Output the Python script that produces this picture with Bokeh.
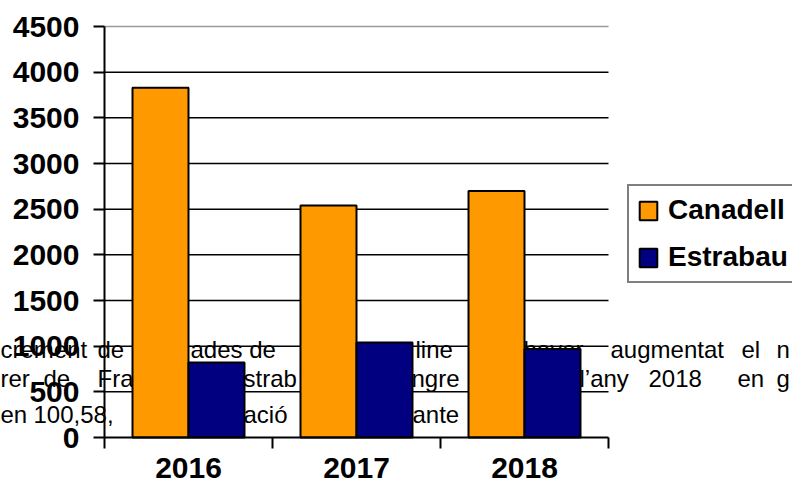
from bokeh.plotting import figure
from bokeh.models import FixedTicker, Label, Legend, LegendItem, Range1d
from bokeh.embed import file_html
from bokeh.resources import INLINE

# ---- data ----
years = ["2016", "2017", "2018"]
canadell = [3830, 2540, 2700]
estrabau = [820, 1040, 970]
series_names = ["Canadell", "Estrabau"]
y_ticks = [0, 500, 1000, 1500, 2000, 2500, 3000, 3500, 4000, 4500]

# background document text fragments (partly hidden behind the chart)
bg_line1 = ["crement", "de", "ades de", "etres line", "haver", "augmentat", "el", "n"]
bg_line2 = ["rer", "de", "Fra", "strab", "ngre", "l\u2019any", "2018", "en", "g"]
bg_line3 = ["en", "100,58,", "ació", "ante"]

# ---- layout (pixels of the picture) ----
W, H = 792, 483
PX_L, PX_R, PX_T, PX_B = 104, 608, 26, 437   # where x=0, x=3, y=4500, y=0 fall
ORANGE = "#FF9900"
NAVY = "#000080"

n = len(years)
ppu_x = (PX_R - PX_L) / n
ppu_y = (PX_B - PX_T) / y_ticks[-1]
x_range = Range1d(-PX_L / ppu_x, (W - PX_L) / ppu_x)
y_range = Range1d(-(H - PX_B) / ppu_y, y_ticks[-1] + PX_T / ppu_y)

p = figure(width=W, height=H, output_backend="svg", toolbar_location=None,
           x_range=x_range, y_range=y_range,
           min_border_left=0, min_border_right=0, min_border_top=0, min_border_bottom=0)
p.outline_line_color = None
p.background_fill_color = "white"
p.border_fill_color = "white"
p.xgrid.visible = False
p.ygrid.visible = False

def add_bg(words, xs, baseline):
    for w, x in zip(words, xs):
        p.add_layout(Label(x=x, y=H - baseline, x_units="screen", y_units="screen",
                           text=w, text_font="Liberation Sans", text_font_size="24px",
                           text_color="black", text_baseline="alphabetic",
                           level="underlay"))

add_bg(bg_line1, [0, 97, 190, 355, 523, 610, 741, 776], 349)
add_bg(bg_line2, [0, 43, 97, 243, 411, 579, 648, 737, 776], 378)
add_bg(bg_line3, [0, 33, 243, 412], 414)

# gridlines (only across the category area) and grey top border
grid_vals = y_ticks[1:-1]
p.segment(x0=[0] * len(grid_vals), x1=[n] * len(grid_vals), y0=grid_vals, y1=grid_vals,
          line_color="black", line_width=1.5)
p.segment(x0=[0], x1=[n], y0=[y_ticks[-1]], y1=[y_ticks[-1]],
          line_color="#9a9a9a", line_width=1.5)

# bars
idx = list(range(n))
bw = 1.0 / 3
x_c = [i + 0.5 - bw / 2 for i in idx]
x_e = [i + 0.5 + bw / 2 for i in idx]
r_c = p.vbar(x=x_c, top=canadell, bottom=0, width=bw, fill_color=ORANGE,
             line_color="black", line_width=2)
r_e = p.vbar(x=x_e, top=estrabau, bottom=0, width=bw, fill_color=NAVY,
             line_color="black", line_width=2)

# y axis
ya = p.yaxis[0]
ya.fixed_location = 0
ya.bounds = (0, y_ticks[-1])
ya.ticker = FixedTicker(ticks=y_ticks)
ya.axis_line_width = 2
ya.major_tick_line_width = 2
ya.major_tick_out = 11
ya.major_tick_in = 0
ya.minor_tick_line_color = None
ya.major_label_standoff = 14
ya.major_label_text_font = "Liberation Sans"
ya.major_label_text_font_style = "bold"
ya.major_label_text_font_size = "30px"
ya.major_label_text_color = "black"

# x axis: ticks at category boundaries, labels at category centres
xa = p.xaxis[0]
xa.fixed_location = 0
xa.bounds = (0, n)
xa.ticker = FixedTicker(ticks=[i + 0.5 for i in idx], minor_ticks=list(range(n + 1)))
xa.major_label_overrides = {i + 0.5: y for i, y in zip(idx, years)}
xa.axis_line_width = 2
xa.major_tick_line_color = None
xa.major_tick_in = 0
xa.major_tick_out = 0
xa.minor_tick_line_width = 2
xa.minor_tick_out = 11
xa.minor_tick_in = 0
xa.major_label_standoff = 9
xa.major_label_text_font = "Liberation Sans"
xa.major_label_text_font_style = "bold"
xa.major_label_text_font_size = "30px"
xa.major_label_text_color = "black"

legend = Legend(items=[LegendItem(label=series_names[0], renderers=[r_c]),
                       LegendItem(label=series_names[1], renderers=[r_e])],
                location=(627, H - 283))
legend.label_text_font = "Liberation Sans"
legend.label_text_font_style = "bold"
legend.label_text_font_size = "28px"
legend.label_text_color = "black"
legend.glyph_width = 22
legend.glyph_height = 23
legend.label_standoff = 9
legend.spacing = 15
legend.padding = 8
legend.margin = 0
legend.border_line_color = "black"
legend.border_line_width = 2
legend.background_fill_color = "white"
legend.background_fill_alpha = 1
p.add_layout(legend, "center")

open("out.html", "w").write(file_html(p, INLINE))
